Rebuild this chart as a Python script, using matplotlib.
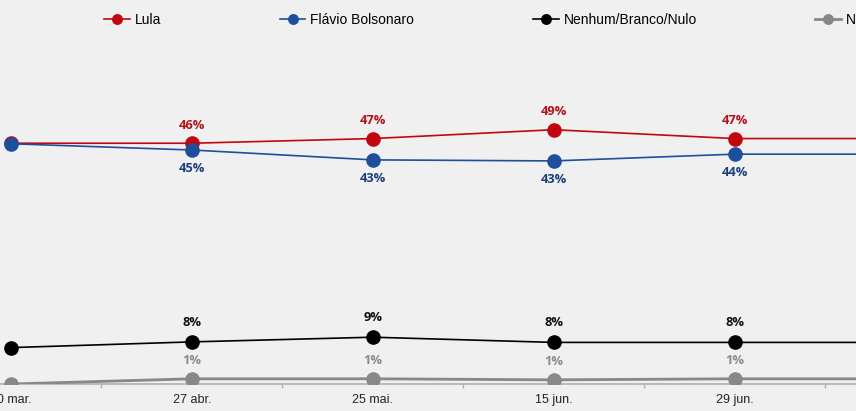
import matplotlib
matplotlib.use("Agg")
import matplotlib.pyplot as plt
import numpy as np

dates = ["30 mar.", "27 abr.", "25 mai.", "15 jun.", "29 jun.", "13 jul."]
lula = [46.3, 46.3, 47.2, 48.9, 47.2, 47.2]
flavio = [46.2, 45.0, 43.1, 42.9, 44.2, 44.2]
nenhum = [7.0, 8.1, 9.0, 8.0, 8.0, 8.0]
nsnr = [0.0, 1.0, 1.0, 0.8, 1.0, 1.0]
series_names = ["Lula", "Flávio Bolsonaro", "Nenhum/Branco/Nulo", "Não sabe/Não respondeu"]

W, H = 856, 411
fig = plt.figure(figsize=(W / 100, H / 100), dpi=100)
bg = "#f0f0f0"
fig.patch.set_facecolor(bg)

ax = fig.add_axes([0, (H - 384) / H, 1, 384 / H])
ax.set_facecolor(bg)
ax.patch.set_alpha(0)

x = np.arange(len(dates))
spacing = 180.9

specs = [
    (lula, "#c0070f", "#b5121b", 1.2, 13, "above"),
    (flavio, "#1f4e9c", "#1b3f7d", 1.2, 13.5, "below"),
    (nenhum, "#000000", "#111111", 1.2, 14, "above"),
    (nsnr, "#888888", "#8c8c8c", 2.0, 13.5, "above"),
]
lines = []
for (vals, col, tcol, lw, off, pos), name in zip(specs, series_names):
    ln, = ax.plot(x, vals, color=col, lw=lw, marker="o", markersize=9.5,
                  markerfacecolor=col, markeredgecolor=col, label=name, zorder=3)
    lines.append(ln)
    for i in range(1, len(vals) - 1):
        dy = off if pos == "above" else -off
        ax.annotate(f"{round(vals[i])}%", (x[i], vals[i]), xytext=(0, dy),
                    textcoords="offset points", ha="center", va="center",
                    fontsize=9.3, fontweight="bold", color=tcol,
                    family=["Open Sans", "DejaVu Sans"])

for s in ["top", "left", "right"]:
    ax.spines[s].set_visible(False)
ax.spines["bottom"].set_color("#b0b0b0")
ax.spines["bottom"].set_linewidth(1.2)
ax.set_yticks([])
ax.set_xticks(x)
ax.set_xticklabels(dates, fontsize=9, color="#222222", family="Liberation Sans")
ax.tick_params(axis="x", which="major", length=0, pad=7)
ax.set_xticks(x[:-1] + 0.5, minor=True)
ax.tick_params(axis="x", which="minor", length=3, color="#b0b0b0", width=1)
ax.set_xlim(-11 / spacing, (W - 11) / spacing)
ax.set_ylim(0, 384 / 5.2)

fig.legend(handles=lines, loc="center left", bbox_to_anchor=(104 / W, 1 - 20 / H),
           ncol=4, frameon=False, borderpad=0, borderaxespad=0,
           handlelength=1.85, handletextpad=0.35, columnspacing=8.55,
           markerscale=0.72, prop={"family": "Liberation Sans", "size": 10})

fig.savefig("out.png", dpi=100, facecolor=bg)
